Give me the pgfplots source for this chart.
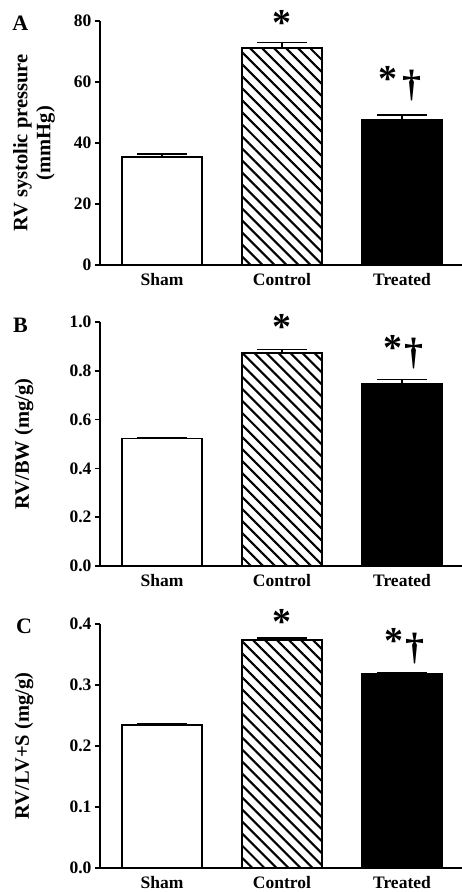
\documentclass[border=0pt]{standalone}
\usepackage{fontspec}
\setmainfont{Liberation Serif}
\usepackage{pgfplots}
\pgfplotsset{compat=1.18}
\usetikzlibrary{patterns.meta}

\pgfplotsset{
  panel/.style={
    scale only axis, width=362pt, height=244pt, anchor=south west,
    axis x line=bottom, axis y line=left,
    axis line style={line width=1.6pt, -},
    xmin=-0.5167, xmax=2.5, ymin=0,
    xtick={0,1,2}, xticklabels={Sham,Control,Treated},
    major x tick style={draw=none},
    tick align=outside, major tick length=5pt,
    major y tick style={line width=1.6pt, black},
    ybar, bar width=80pt, bar shift=0pt,
    tick label style={font=\fontsize{17.5}{20}\selectfont\bfseries, black},
    /pgf/number format/assume math mode=true,
    ylabel style={font=\fontsize{20.5}{23}\selectfont\bfseries, align=center, anchor=center},
    clip=false,
    every axis plot/.append style={line width=1.6pt, draw=black},
    error bars/y dir=plus, error bars/y explicit,
    error bars/error bar style={line width=1.6pt, black},
    error bars/error mark options={rotate=90, mark size=25pt, line width=1.6pt, black},
  },
  onedec/.style={yticklabel style={/pgf/number format/.cd, fixed, fixed zerofill, precision=1}},
  sham/.style={fill=white},
  ctrl/.style={pattern={Lines[angle=-45,distance=8.5pt,line width=2.1pt]}},
  treat/.style={fill=black},
}
\tikzset{
  sig/.style={font=\fontsize{38}{40}\selectfont\bfseries, inner sep=0pt},
  letter/.style={font=\fontsize{22}{24}\selectfont\bfseries, inner sep=0pt},
}

\begin{document}
\begin{tikzpicture}
\useasboundingbox (0,0) rectangle (462pt,-892pt);

% A: RV systolic pressure
\begin{axis}[panel, at={(100pt,-265pt)}, ymax=80, ytick={0,20,40,60,80},
  ylabel={RV systolic pressure\\(mmHg)},
  ylabel style={at={(axis description cs:-0.182,0.5)}}]
\addplot[sham] coordinates {(0,35.4) +- (0,1.0)};
\addplot[ctrl] coordinates {(1,71.2) +- (0,1.7)};
\addplot[treat] coordinates {(2,47.5) +- (0,1.7)};
\node[sig] at (axis cs:1,79.5) {*};
\node[sig] at (axis cs:1.88,61.0) {*};
\node[sig] at (axis cs:2.08,58.7) {†};
\node[letter] at (axis description cs:-0.22,0.99) {A};
\end{axis}

% B: RV/BW
\begin{axis}[panel, onedec, at={(100pt,-566pt)}, ymax=1.0,
  ytick={0,0.2,0.4,0.6,0.8,1.0},
  ylabel={RV/BW (mg/g)},
  ylabel style={at={(axis description cs:-0.21,0.5)}}]
\addplot[sham] coordinates {(0,0.522) +- (0,0.003)};
\addplot[ctrl] coordinates {(1,0.873) +- (0,0.014)};
\addplot[treat] coordinates {(2,0.746) +- (0,0.018)};
\node[sig] at (axis cs:1,0.98) {*};
\node[sig] at (axis cs:1.925,0.893) {*};
\node[sig] at (axis cs:2.1,0.869) {†};
\node[letter] at (axis description cs:-0.22,0.985) {B};
\end{axis}

% C: RV/LV+S
\begin{axis}[panel, onedec, at={(100pt,-868pt)}, ymax=0.4,
  ytick={0,0.1,0.2,0.3,0.4},
  ylabel={RV/LV+S (mg/g)},
  ylabel style={at={(axis description cs:-0.21,0.5)}}]
\addplot[sham] coordinates {(0,0.2346) +- (0,0.002)};
\addplot[ctrl] coordinates {(1,0.3735) +- (0,0.004)};
\addplot[treat] coordinates {(2,0.318) +- (0,0.002)};
\node[sig] at (axis cs:1,0.404) {*};
\node[sig] at (axis cs:1.935,0.372) {*};
\node[sig] at (axis cs:2.11,0.360) {†};
\node[letter] at (axis description cs:-0.21,0.99) {C};
\end{axis}
\end{tikzpicture}
\end{document}
